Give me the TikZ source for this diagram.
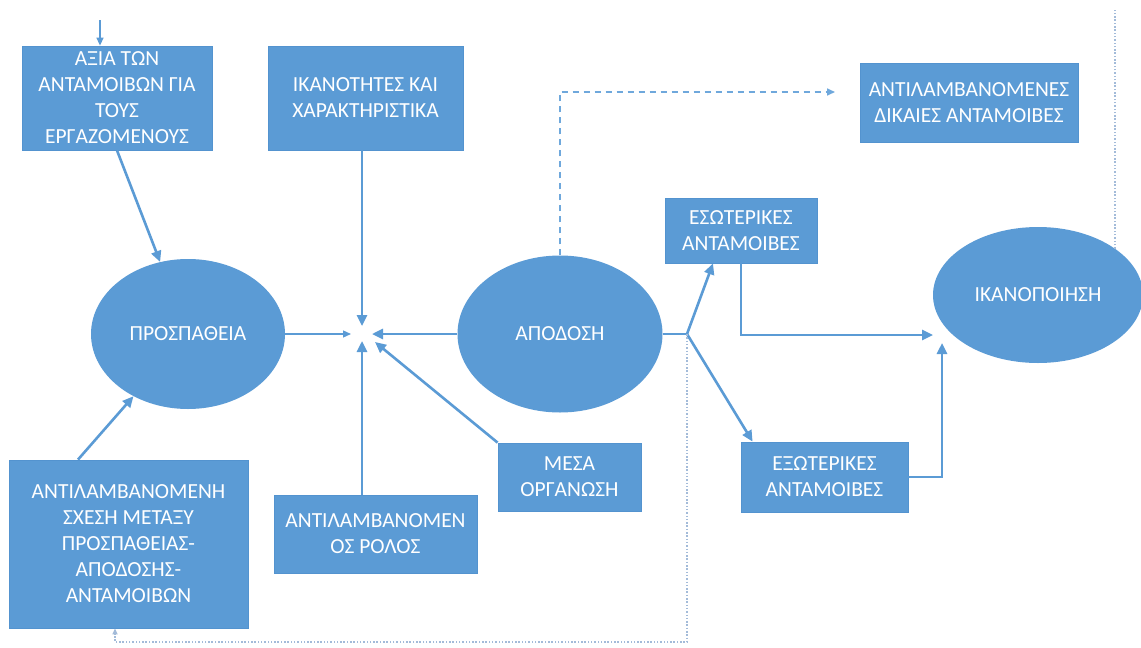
\documentclass[tikz,border=0pt]{standalone}
\usepackage{fontspec}
\setmainfont{Carlito}
\usetikzlibrary{shapes.geometric,arrows.meta}
\definecolor{obl}{HTML}{5B9BD5}
\definecolor{obd}{HTML}{5393CF}
\definecolor{dashc}{HTML}{6FA8DC}
\definecolor{dotc}{HTML}{A3BBD9}
\tikzset{
  box/.style={rectangle,fill=obl,draw=obd,line width=0.8pt,inner sep=0pt,text=white,align=center,font=\fontsize{21.5}{26}\selectfont},
  oval/.style={ellipse,fill=obl,inner sep=0pt,text=white,align=center,font=\fontsize{21.5}{26}\selectfont},
  con/.style={draw=obl,line width=2.6pt},
  arr/.style={con,-{Triangle[length=11pt,width=10pt]}},
  thinarr/.style={draw=obl,line width=1.3pt,-{Triangle[length=8pt,width=7pt]}},
  dashline/.style={draw=dashc,line width=1.6pt,dash pattern=on 6pt off 5pt,-{Triangle[length=8pt,width=7pt]}},
  dotline/.style={draw=dotc,line width=1.5pt,dash pattern=on 1.5pt off 1.8pt}
}
\begin{document}
\begin{tikzpicture}[x=1pt,y=-1pt]
\useasboundingbox[fill=white] (0,0) rectangle (1141,648);
% nodes
\node[box,minimum width=190pt,minimum height=104pt] (a) at (117,98) {ΑΞΙΑ ΤΩΝ\\ΑΝΤΑΜΟΙΒΩΝ ΓΙΑ\\ΤΟΥΣ\\ΕΡΓΑΖΟΜΕΝΟΥΣ};
\node[box,minimum width=195pt,minimum height=104pt] (b) at (365.5,98) {ΙΚΑΝΟΤΗΤΕΣ ΚΑΙ\\ΧΑΡΑΚΤΗΡΙΣΤΙΚΑ};
\node[box,minimum width=218pt,minimum height=79pt] (c) at (969,102.5) {ΑΝΤΙΛΑΜΒΑΝΟΜΕΝΕΣ\\ΔΙΚΑΙΕΣ ΑΝΤΑΜΟΙΒΕΣ};
\node[oval,minimum width=194pt,minimum height=150pt] (pro) at (188,334) {ΠΡΟΣΠΑΘΕΙΑ};
\node[oval,minimum width=205pt,minimum height=157pt] (apo) at (560,334) {ΑΠΟΔΟΣΗ};
\node[oval,minimum width=210pt,minimum height=136pt] (ik) at (1038,295) {ΙΚΑΝΟΠΟΙΗΣΗ};
\node[box,minimum width=152pt,minimum height=65pt] (eso) at (741,230.5) {ΕΣΩΤΕΡΙΚΕΣ\\ΑΝΤΑΜΟΙΒΕΣ};
\node[box,minimum width=167pt,minimum height=70pt] (exo) at (824.5,477) {ΕΞΩΤΕΡΙΚΕΣ\\ΑΝΤΑΜΟΙΒΕΣ};
\node[box,minimum width=143pt,minimum height=68pt] (mesa) at (569.5,477) {ΜΕΣΑ\\ΟΡΓΑΝΩΣΗ};
\node[box,minimum width=203pt,minimum height=78pt] (rol) at (375.5,534) {ΑΝΤΙΛΑΜΒΑΝΟΜΕΝ\\ΟΣ ΡΟΛΟΣ};
\node[box,minimum width=239pt,minimum height=168pt] (sx) at (128.5,544) {ΑΝΤΙΛΑΜΒΑΝΟΜΕΝΗ\\ΣΧΕΣΗ ΜΕΤΑΞΥ\\ΠΡΟΣΠΑΘΕΙΑΣ-\\ΑΠΟΔΟΣΗΣ-\\ΑΝΤΑΜΟΙΒΩΝ};
% coordinates
\coordinate (topin) at (100,20);
\coordinate (c1) at (362,326);
\coordinate (c2) at (362,341);
\coordinate (c3) at (351,334);
\coordinate (c4) at (372,334);
\coordinate (c5) at (375,342);
\coordinate (br) at (687,334);
\coordinate (t1) at (933,335);
\coordinate (t2) at (942,343);
\coordinate (dashend) at (835,92);
\coordinate (bl) at (115,642);
\coordinate (topr) at (1115,10);
% connectors
\draw[thinarr] (topin) -- (topin |- a.north);
\draw[arr] (a.south) -- (pro);
\draw[arr] ([xshift=-50.5pt]sx.north) -- (pro);
\draw[arr] (b.south -| c1) -- (c1);
\draw[arr] (rol.north -| c2) -- (c2);
\draw[thinarr] (pro.east) -- (c3);
\draw[arr] (apo.west) -- (c4);
\draw[arr] (mesa.north west) -- (c5);
\draw[con] (apo.east) -- (br);
\draw[arr] (br) -- ([xshift=-28pt]eso.south);
\draw[arr] (br) -- ([xshift=12pt]exo.north west);
\draw[arr] (eso.south) |- (t1);
\draw[arr] (exo.east) -| (t2);
\draw[dashline] (apo.north) |- (dashend);
\draw[dotline,-{Triangle[length=6pt,width=5pt]}] (br) |- (bl) -- (bl |- sx.south);
\draw[dotline] (ik.31) -- (ik.31 |- topr);
\end{tikzpicture}
\end{document}
